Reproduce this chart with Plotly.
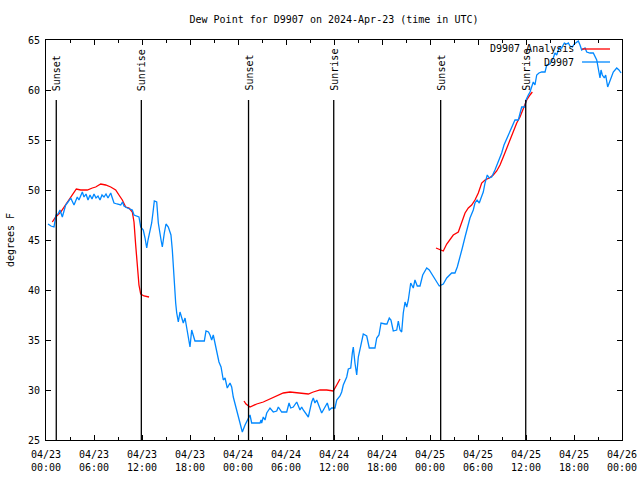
import plotly.graph_objects as go
import pandas as pd

TITLE = "Dew Point for D9907 on 2024-Apr-23 (time in UTC)"
START = "2024-04-23 00:00"
END = "2024-04-26 00:00"

# Observed dew point (hours after 2024-04-23 00:00 UTC, degrees F)
obs_hours = [0.25, 0.62, 1.0, 1.25, 1.5, 1.75, 2.04, 2.46, 2.75, 3.09, 3.5, 3.91, 4.12, 4.54, 4.75,
             5.0, 5.25, 5.5, 5.75, 6.0, 6.25, 6.5, 6.75, 7.0, 7.25, 7.5, 7.75, 8.09, 8.25, 8.5,
             8.88, 9.34, 9.56, 9.75, 10.16, 10.5, 10.79, 11.0, 11.38, 11.62, 11.84, 12.16, 12.38,
             12.59, 12.75, 13.0, 13.21, 13.38, 13.54, 13.84, 14.04, 14.38, 14.54, 14.79, 15.0,
             15.29, 15.5, 15.62, 15.79, 15.94, 16.04, 16.21, 16.34, 16.54, 16.75, 16.96, 17.16,
             17.38, 17.59, 17.79, 18.0, 18.21, 18.41, 18.62, 19.25, 19.79, 20.0, 20.31, 20.5,
             20.71, 20.91, 21.12, 21.34, 21.62, 21.88, 22.16, 22.38, 22.66, 23.0, 23.21, 23.41,
             23.84, 24.25, 24.54, 24.88, 25.16, 25.29, 25.5, 25.71, 26.12, 26.75, 26.88, 26.96,
             27.16, 27.38, 27.59, 28.0, 28.41, 28.84, 29.04, 29.46, 30.09, 30.38, 30.59, 30.91,
             31.34, 31.54, 31.75, 31.96, 32.16, 32.79, 33.0, 33.21, 33.41, 33.62, 33.84, 34.16,
             34.46, 34.88, 35.16, 35.41, 35.71, 36.12, 36.34, 36.75, 36.96, 37.16, 37.59, 37.79,
             38.09, 38.29, 38.41, 38.62, 38.84, 39.04, 39.34, 39.66, 40.09, 40.41, 41.12, 41.34,
             41.62, 41.88, 42.38, 42.62, 42.91, 43.12, 43.41, 43.84, 44.04, 44.25, 44.46, 44.66,
             44.88, 45.09, 45.29, 45.59, 45.91, 46.12, 46.41, 46.75, 47.09, 47.59, 47.91, 48.41,
             48.84, 49.16, 49.66, 50.09, 50.71, 51.12, 51.41, 51.75, 52.04, 52.38, 52.66, 53.0,
             53.41, 53.62, 53.88, 54.16, 54.38, 54.66, 54.88, 55.16, 55.41, 55.71, 56.12, 56.54,
             56.96, 57.25, 57.66, 58.0, 58.21, 58.62, 59.04, 59.25, 59.46, 59.88, 60.0, 60.29,
             60.5, 60.91, 61.12, 61.34, 61.62, 61.96, 62.38, 62.59, 63.0, 63.41, 63.62, 63.84,
             64.12, 64.46, 64.79, 65.09, 65.29, 65.5, 65.79, 66.04, 66.34, 66.54, 66.75, 66.96,
             67.38, 67.59, 68.0, 68.41, 68.84, 69.04, 69.25, 69.38, 69.54, 69.79, 69.96, 70.21,
             70.5, 70.71, 70.91, 71.34, 71.62, 71.88]
obs_vals = [46.6, 46.4, 46.3, 47.5, 47.6, 48.0, 47.3, 48.5, 48.8, 49.2, 48.5, 49.3, 49.0, 49.8, 49.3,
            49.6, 49.0, 49.5, 49.1, 49.6, 49.2, 49.4, 49.0, 49.5, 49.3, 49.6, 49.2, 49.7, 49.3, 48.7,
            48.6, 48.5, 48.8, 48.4, 48.2, 48.1, 48.0, 47.5, 47.4, 47.3, 46.3, 46.0, 45.2,
            44.2, 45.0, 46.0, 46.7, 47.8, 48.9, 48.8, 46.7, 45.0, 44.3, 45.7, 46.6,
            46.3, 45.8, 45.5, 44.0, 42.0, 40.3, 38.7, 37.7, 36.8, 37.8, 37.3, 36.7,
            37.2, 36.3, 35.3, 34.3, 36.0, 35.3, 34.9, 34.9, 34.9, 35.9, 35.8, 35.5,
            35.0, 35.5, 34.7, 33.7, 32.8, 32.3, 31.0, 31.2, 30.2, 30.7, 30.3, 29.3,
            28.0, 26.7, 25.8, 26.5, 27.0, 27.3, 27.5, 26.7, 26.7, 26.7, 27.0, 26.7,
            27.3, 27.0, 27.7, 28.2, 27.8, 27.9, 28.3, 27.8, 27.8, 28.7, 28.2, 28.3,
            28.8, 28.3, 28.0, 28.3, 28.0, 27.3, 28.2, 28.8, 29.2, 28.7, 29.0, 28.3,
            27.7, 28.3, 28.7, 28.0, 28.2, 28.2, 29.0, 29.4, 29.8, 30.5, 31.3, 32.1,
            32.2, 33.7, 34.3, 32.7, 31.5, 33.3, 34.3, 35.6, 35.4, 34.2, 34.2, 35.2,
            35.5, 36.7, 36.6, 36.6, 37.2, 37.0, 35.9, 36.0, 36.9, 36.0, 35.8, 37.7,
            38.8, 38.3, 39.0, 40.7, 40.2, 41.0, 40.4, 40.4, 41.5, 42.2, 42.0, 41.3,
            40.8, 40.4, 40.6, 41.2, 41.7, 41.7, 42.3, 43.2, 44.2, 45.3, 46.3, 47.2,
            48.0, 48.7, 49.0, 48.7, 49.2, 49.8, 50.7, 51.5, 51.2, 51.3, 52.0, 52.8,
            53.7, 54.5, 55.2, 55.8, 56.3, 57.0, 57.0, 57.7, 58.3, 58.3, 59.0, 59.5,
            59.8, 60.8, 60.5, 61.5, 61.7, 61.8, 61.8, 62.5, 62.6, 63.2, 63.7, 63.5,
            64.2, 64.2, 64.7, 64.6, 64.7, 64.4, 64.3, 64.6, 64.8, 64.9, 64.5, 64.0,
            64.2, 63.8, 63.7, 63.7, 63.0, 62.2, 61.2, 62.0, 61.5, 61.2, 61.5, 60.3,
            61.0, 61.3, 61.8, 62.2, 62.0, 61.7]

# Analysis dew point, three separate runs
ana1_hours = [0.79, 1.21, 1.84, 2.46, 3.09, 3.5, 3.79, 4.34, 5.16, 5.79, 6.21, 6.84, 7.46, 8.09,
              8.71, 9.12, 9.54, 9.96, 10.38, 10.79, 11.0, 11.21, 11.42, 11.62, 11.84, 12.25, 12.88]
ana1_vals = [46.8, 47.3, 47.8, 48.5, 49.2, 49.7, 50.1, 50.0, 50.0, 50.2, 50.3, 50.6, 50.5, 50.3,
             50.0, 49.5, 49.0, 48.3, 48.2, 47.8, 46.8, 44.5, 42.0, 40.5, 39.6, 39.4, 39.3]
ana2_hours = [24.75, 25.0, 25.5, 26.34, 27.16, 28.0, 28.84, 29.66, 30.5, 31.34, 32.16, 32.79,
              33.41, 34.25, 35.09, 35.91, 36.34, 36.75]
ana2_vals = [28.9, 28.6, 28.3, 28.6, 28.8, 29.1, 29.4, 29.7, 29.8, 29.7, 29.6, 29.6,
             29.8, 30.0, 30.0, 29.9, 30.5, 31.1]
ana3_hours = [48.75, 49.25, 49.66, 50.09, 50.5, 50.91, 51.54, 51.96, 52.38, 52.79, 53.21, 53.62,
              54.04, 54.46, 54.88, 55.41, 55.91, 56.34, 56.75, 57.16, 57.59, 58.0, 58.41, 58.84,
              59.25, 59.66, 60.09, 60.5, 60.79]
ana3_vals = [44.2, 44.0, 43.9, 44.6, 45.1, 45.5, 45.8, 46.7, 47.7, 48.2, 48.5, 49.0,
             49.7, 50.7, 51.0, 51.2, 51.5, 51.9, 52.5, 53.3, 54.2, 55.0, 55.8, 56.7,
             57.3, 58.2, 59.0, 59.5, 59.8]

sun_labels = ["Sunset", "Sunrise", "Sunset", "Sunrise", "Sunset", "Sunrise"]
sun_times = ["2024-04-23 01:17", "2024-04-23 11:55", "2024-04-24 01:19",
             "2024-04-24 11:58", "2024-04-25 01:20", "2024-04-25 11:58"]

tick_times = ["2024-04-23 00:00", "2024-04-23 06:00", "2024-04-23 12:00", "2024-04-23 18:00",
              "2024-04-24 00:00", "2024-04-24 06:00", "2024-04-24 12:00", "2024-04-24 18:00",
              "2024-04-25 00:00", "2024-04-25 06:00", "2024-04-25 12:00", "2024-04-25 18:00",
              "2024-04-26 00:00"]
tick_text = ["04/23<br>00:00", "04/23<br>06:00", "04/23<br>12:00", "04/23<br>18:00",
             "04/24<br>00:00", "04/24<br>06:00", "04/24<br>12:00", "04/24<br>18:00",
             "04/25<br>00:00", "04/25<br>06:00", "04/25<br>12:00", "04/25<br>18:00",
             "04/26<br>00:00"]

legend_names = ["D9907 Analysis", "D9907"]
RED = "#ff0000"
BLUE = "#0088ff"
FONT = "DejaVu Sans Mono"
FS = 10

base = pd.Timestamp(START)


def to_ts(hours):
    return [(base + pd.Timedelta(hours=h)).strftime("%Y-%m-%d %H:%M:%S") for h in hours]


ana_x, ana_y = [], []
for hh, vv in [(ana1_hours, ana1_vals), (ana2_hours, ana2_vals), (ana3_hours, ana3_vals)]:
    ana_x += to_ts(hh) + [None]
    ana_y += vv + [None]

fig = go.Figure()
fig.add_trace(go.Scatter(x=ana_x, y=ana_y, mode="lines", name=legend_names[0],
                         line=dict(color=RED, width=1.3), showlegend=False, connectgaps=False))
fig.add_trace(go.Scatter(x=to_ts(obs_hours), y=obs_vals, mode="lines", name=legend_names[1],
                         line=dict(color=BLUE, width=1.3), showlegend=False))

# Sunrise / sunset markers
LINE_TOP = 59.0
for lab, t in zip(sun_labels, sun_times):
    fig.add_shape(type="line", xref="x", yref="y", x0=t, x1=t, y0=25, y1=LINE_TOP,
                  line=dict(color="black", width=1.3))
    fig.add_annotation(x=t, y=LINE_TOP + 0.7, xref="x", yref="y", text=lab, textangle=-90,
                       showarrow=False, xanchor="center", yanchor="bottom",
                       font=dict(family=FONT, size=FS, color="black"))

# gnuplot-style key (text left of sample)
key_rows = [(0.9775, RED), (0.945, BLUE)]
for name, (yy, col) in zip(legend_names, key_rows):
    fig.add_annotation(x=0.9205, y=yy, xref="paper", yref="paper", text=name, showarrow=False,
                       xanchor="right", yanchor="middle",
                       font=dict(family=FONT, size=FS, color="black"))
    fig.add_shape(type="line", xref="paper", yref="paper", x0=0.9306, x1=0.9792, y0=yy, y1=yy,
                  line=dict(color=col, width=1.3))

fig.update_layout(
    width=640, height=480,
    margin=dict(l=46, r=18, t=40, b=40, autoexpand=False),
    paper_bgcolor="white", plot_bgcolor="white",
    title=dict(text=TITLE, x=(46 + 288) / 640, xanchor="center", y=1 - 19 / 480, yanchor="middle",
               font=dict(family=FONT, size=FS, color="black")),
    font=dict(family=FONT, size=FS, color="black"),
    showlegend=False,
)
fig.update_xaxes(
    type="date", range=[START, END], tickmode="array", tickvals=tick_times, ticktext=tick_text,
    ticks="inside", ticklen=5, tickcolor="black", tickwidth=1, automargin=False,
    ticklabelstandoff=5,
    showline=True, linecolor="black", linewidth=1, mirror="allticks", showgrid=False,
    zeroline=False, tickfont=dict(family=FONT, size=FS, color="black"),
    minor=dict(ticks="inside", ticklen=3, tickcolor="black", dtick=3 * 3600 * 1000,
               tick0=START, showgrid=False),
)
fig.update_yaxes(
    range=[25, 65], tickmode="linear", tick0=25, dtick=5, automargin=False,
    ticklabelstandoff=3,
    ticks="inside", ticklen=5, tickcolor="black", tickwidth=1,
    showline=True, linecolor="black", linewidth=1, mirror="allticks", showgrid=False,
    zeroline=False, tickfont=dict(family=FONT, size=FS, color="black"),
    title=dict(text="degrees F", font=dict(family=FONT, size=FS, color="black"), standoff=11),
)

fig.write_html("out.html", config={"displayModeBar": False},
               post_script="document.body.style.margin='0px';document.body.style.padding='0px';")
